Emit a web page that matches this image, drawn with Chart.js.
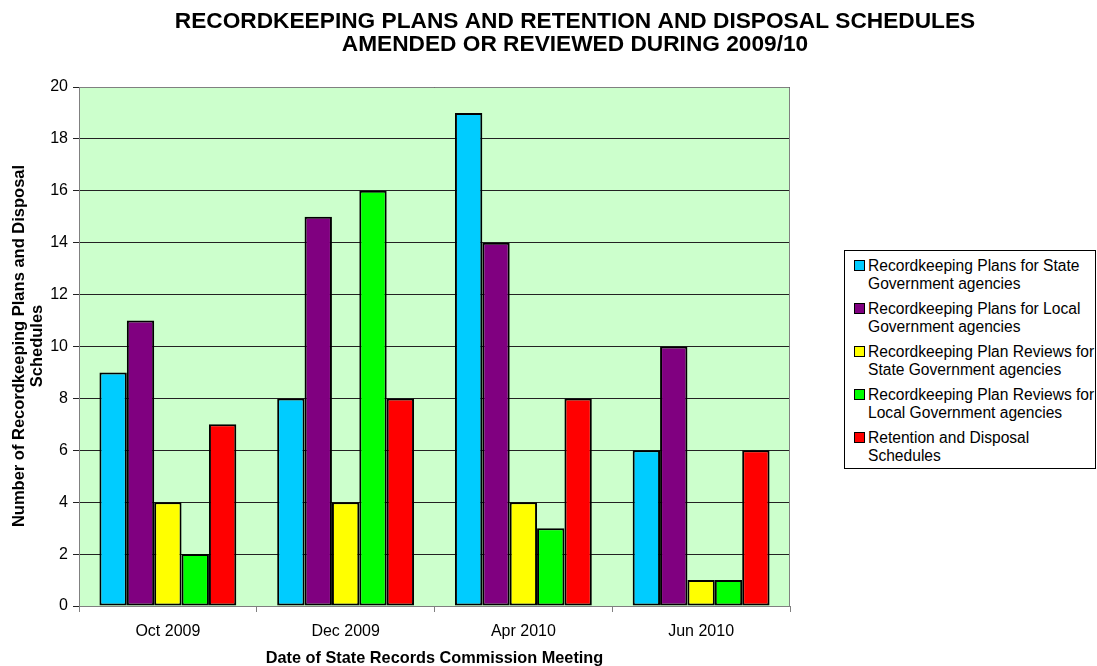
<!DOCTYPE html>
<html><head><meta charset="utf-8">
<script src="https://cdn.jsdelivr.net/npm/chart.js@4.4.1/dist/chart.umd.min.js"></script>
<style>
html,body{margin:0;padding:0;background:#fff;}
#wrap{position:relative;width:1097px;height:666px;overflow:hidden;}
#legend{position:absolute;left:844px;top:250px;width:252px;height:219px;border:1px solid #000;box-sizing:border-box;background:#fff;font-family:"Liberation Sans",Arial,sans-serif;font-size:15.6px;color:#000;padding:6px 0 0 9px;}
.item{display:flex;align-items:flex-start;height:43px;line-height:18px;white-space:nowrap;}
.sw{width:9px;height:9px;border:1px solid #000;margin:3px 3px 0 0;flex:none;}
</style></head>
<body><div id="wrap"><canvas id="c" width="1097" height="666"></canvas><div id="legend"></div></div>
<script>
const categories = ["Oct 2009","Dec 2009","Apr 2010","Jun 2010"];
const seriesNames = [
  "Recordkeeping Plans for State Government agencies",
  "Recordkeeping Plans for Local Government agencies",
  "Recordkeeping Plan Reviews for State Government agencies",
  "Recordkeeping Plan Reviews for Local Government agencies",
  "Retention and Disposal Schedules"
];
const legendLines = [
  ["Recordkeeping Plans for State","Government agencies"],
  ["Recordkeeping Plans for Local","Government agencies"],
  ["Recordkeeping Plan Reviews for","State Government agencies"],
  ["Recordkeeping Plan Reviews for","Local Government agencies"],
  ["Retention and Disposal","Schedules"]
];
const stateRK = [9, 8, 19, 6];
const localRK = [11, 15, 14, 10];
const stateReviews = [4, 4, 4, 1];
const localReviews = [2, 16, 3, 1];
const rdSchedules = [7, 8, 8, 6];
const colors = ["#00CCFF","#800080","#FFFF00","#00FF00","#FF0000"];
const titleLines = ["RECORDKEEPING PLANS AND RETENTION AND DISPOSAL SCHEDULES","AMENDED OR REVIEWED DURING 2009/10"];
const yTitleLines = ["Number of Recordkeeping Plans and Disposal","Schedules"];
const xTitle = "Date of State Records Commission Meeting";

const FONT = '"Liberation Sans", Arial, sans-serif';
const seriesValues = [stateRK, localRK, stateReviews, localReviews, rdSchedules];

const deco = {
  id:'deco',
  beforeDraw(chart){
    const {ctx, chartArea:a} = chart;
    ctx.save();
    ctx.fillStyle = '#CCFFCC';
    ctx.fillRect(a.left, a.top, a.right-a.left, a.bottom-a.top);
    ctx.restore();
  },
  beforeDatasetsDraw(chart){
    const {ctx, chartArea:a} = chart;
    ctx.save();
    ctx.strokeStyle = '#808080';
    ctx.lineWidth = 1;
    ctx.beginPath();
    ctx.moveTo(a.left, a.top+0.5); ctx.lineTo(a.right-0.5, a.top+0.5); ctx.lineTo(a.right-0.5, a.bottom);
    ctx.stroke();
    ctx.restore();
  },
  afterDraw(chart){
    const {ctx, chartArea:a} = chart;
    ctx.save();
    ctx.fillStyle = '#000';
    ctx.textAlign = 'center';
    ctx.textBaseline = 'middle';
    ctx.font = 'bold 22.7px ' + FONT;
    ctx.fillText(titleLines[0], 575, 22);
    ctx.fillText(titleLines[1], 575, 45);
    ctx.font = 'bold 16.3px ' + FONT;
    ctx.fillText(xTitle, (a.left+a.right)/2, 659);
    ctx.translate(19, 346);
    ctx.rotate(-Math.PI/2);
    ctx.font = 'bold 16.5px ' + FONT;
    ctx.fillText(yTitleLines[0], 0, 0);
    ctx.fillText(yTitleLines[1], 0, 18);
    ctx.restore();
  }
};

new Chart(document.getElementById('c'), {
  type:'bar',
  data:{
    labels: categories,
    datasets: seriesNames.map((n,i)=>({
      label:n, data:seriesValues[i], backgroundColor:colors[i],
      borderColor:'#000', borderWidth:2, borderSkipped:false,
      barPercentage:1, categoryPercentage:0.77
    }))
  },
  options:{
    responsive:false, animation:false,
    layout:{padding:{left:0, top:87, right:307, bottom:0}},
    plugins:{legend:{display:false}, title:{display:false}, tooltip:{enabled:false}},
    scales:{
      x:{
        grid:{drawOnChartArea:false, drawTicks:true, tickLength:6, color:'#808080', offset:true},
        border:{display:true, color:'#808080'},
        ticks:{color:'#000', font:{family:FONT, size:16}, padding:10, maxRotation:0},
        afterFit(s){ s.height = 60; }
      },
      y:{
        min:0, max:20,
        ticks:{stepSize:2, color:'#000', font:{family:FONT, size:16}, padding:5},
        grid:{color:'#222', lineWidth:1, tickLength:6, drawTicks:true},
        border:{display:true, color:'#808080'},
        afterFit(s){ s.width = 79; }
      }
    }
  },
  plugins:[deco]
});

const lg = document.getElementById('legend');
legendLines.forEach((ls,i)=>{
  const d = document.createElement('div'); d.className='item';
  const sw = document.createElement('div'); sw.className='sw'; sw.style.background=colors[i];
  const t = document.createElement('div'); t.innerHTML = ls.join('<br>');
  d.appendChild(sw); d.appendChild(t); lg.appendChild(d);
});
</script></body></html>
